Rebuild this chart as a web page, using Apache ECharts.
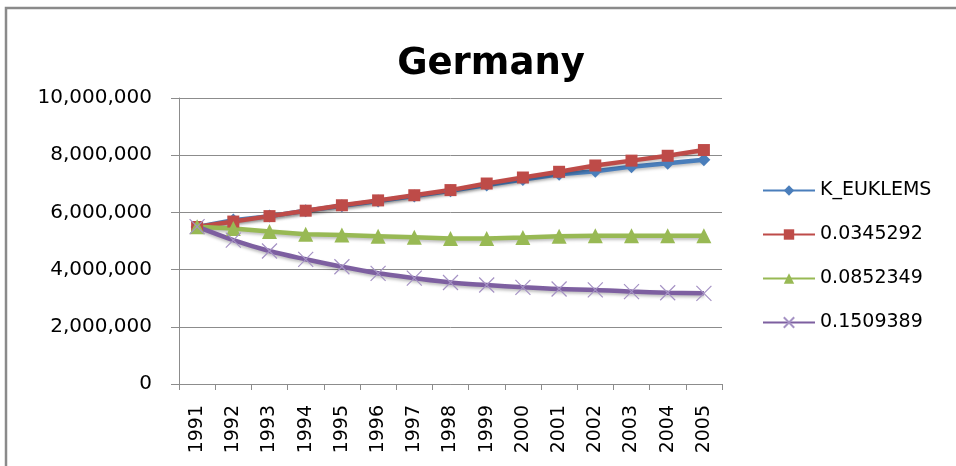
<!DOCTYPE html>
<html>
<head>
<meta charset="utf-8">
<script src="https://cdn.jsdelivr.net/npm/echarts@6/dist/echarts.min.js"></script>
<style>
  html, body { margin: 0; padding: 0; background: #fff; }
  #chart { width: 956px; height: 466px; }
</style>
</head>
<body>
<div id="chart"></div>
<script>
// data
const years = ['1991', '1992', '1993', '1994', '1995', '1996', '1997', '1998',
  '1999', '2000', '2001', '2002', '2003', '2004', '2005']
const kEuklems = [5490000, 5730000, 5870000, 6060000, 6230000, 6400000, 6570000, 6760000,
  6960000, 7150000, 7330000, 7440000, 7600000, 7720000, 7840000]
const r0345292 = [5490000, 5680000, 5870000, 6060000, 6250000, 6420000, 6600000, 6780000,
  7010000, 7220000, 7420000, 7640000, 7810000, 7980000, 8180000]
const r0852349 = [5500000, 5440000, 5330000, 5240000, 5210000, 5170000, 5130000, 5090000,
  5090000, 5120000, 5170000, 5180000, 5180000, 5180000, 5180000]
const r1509389 = [5500000, 5030000, 4650000, 4360000, 4100000, 3870000, 3700000, 3550000,
  3460000, 3380000, 3320000, 3290000, 3230000, 3190000, 3170000]
const seriesNames = ['K_EUKLEMS', '0.0345292', '0.0852349', '0.1509389']
const yTicks = { min: 0, max: 10000000, interval: 2000000 }

const chart = echarts.init(document.getElementById('chart'))
const font = 'DejaVu Sans'
const shadow = { shadowColor: 'rgba(0,0,0,0.25)', shadowBlur: 3, shadowOffsetY: 2 }

function lineSeries(name, data, color, symbol, size, extra) {
  return Object.assign({
    name: name,
    type: 'line',
    data: data,
    symbol: symbol,
    symbolSize: size,
    showAllSymbol: true,
    lineStyle: Object.assign({ color: color, width: 4.5 }, shadow),
    itemStyle: { color: color },
    emphasis: { disabled: true }
  }, extra || {})
}

const options = {
  animation: false,
  backgroundColor: '#fff',
  textStyle: { fontFamily: font },
  title: {
    text: 'Germany',
    left: 486,
    textAlign: 'center',
    top: 41,
    textStyle: { fontFamily: font, fontWeight: 'bold', fontSize: 37, color: '#000' }
  },
  graphic: [{
    type: 'rect',
    shape: { x: 6, y: 8, width: 1000, height: 500 },
    style: { fill: 'none', stroke: '#8a8a8a', lineWidth: 2.5 },
    silent: true
  }],
  legend: {
    orient: 'vertical',
    left: 757,
    top: 176,
    itemWidth: 52,
    itemHeight: 13,
    itemGap: 25,
    data: seriesNames,
    textStyle: { fontFamily: font, fontSize: 19, color: '#000' }
  },
  grid: { left: 179, right: 234, top: 98, bottom: 82, containLabel: false },
  xAxis: {
    type: 'category',
    data: years,
    boundaryGap: true,
    axisLine: { lineStyle: { color: '#8c8c8c', width: 1 } },
    axisTick: { show: true, length: 6, lineStyle: { color: '#8c8c8c' } },
    axisLabel: { rotate: 90, margin: 21, fontFamily: font, fontSize: 19, color: '#000' }
  },
  yAxis: {
    type: 'value',
    min: yTicks.min,
    max: yTicks.max,
    interval: yTicks.interval,
    axisLine: { show: true, lineStyle: { color: '#8c8c8c', width: 1 } },
    axisTick: { show: true, length: 8, lineStyle: { color: '#8c8c8c' } },
    axisLabel: {
      margin: 27,
      fontFamily: font,
      fontSize: 20,
      color: '#000',
      formatter: v => v.toLocaleString('en-US')
    },
    splitLine: { lineStyle: { color: '#8c8c8c', width: 1 } }
  },
  series: [
    lineSeries(seriesNames[0], kEuklems, '#4a7ebb', 'diamond', 13),
    lineSeries(seriesNames[1], r0345292, '#be4b48', 'rect', 12),
    lineSeries(seriesNames[2], r0852349, '#98b954', 'triangle', 15),
    lineSeries(seriesNames[3], r1509389, '#7d5fa0', 'path://M0,0L10,10M10,0L0,10', 15, {
      smooth: 0.35,
      itemStyle: { color: '#7d5fa0', borderColor: '#a592c4', borderWidth: 1.2 }
    })
  ]
}
chart.setOption(options)
</script>
</body>
</html>
